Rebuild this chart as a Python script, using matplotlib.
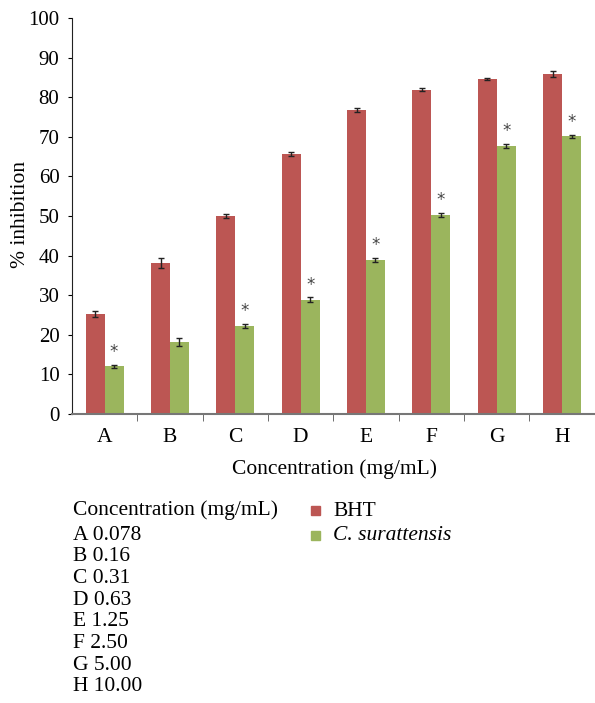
import numpy as np
import matplotlib
matplotlib.use('Agg')
import matplotlib.pyplot as plt

plt.rcParams['font.family'] = ['Liberation Serif', 'DejaVu Serif']

categories = ['A', 'B', 'C', 'D', 'E', 'F', 'G', 'H']
conc_labels = ['0.078', '0.16', '0.31', '0.63', '1.25', '2.50', '5.00', '10.00']
bht = [25.2, 38.1, 50.0, 65.7, 76.8, 81.9, 84.6, 85.9]
bht_err = [0.8, 1.2, 0.4, 0.6, 0.5, 0.4, 0.2, 0.7]
cs = [12.0, 18.1, 22.2, 28.8, 38.9, 50.3, 67.7, 70.2]
cs_err = [0.4, 1.0, 0.5, 0.6, 0.6, 0.5, 0.6, 0.4]
signif = [True, False, True, True, True, True, True, True]

red = '#bc5653'
green = '#9bb55d'

fig = plt.figure(figsize=(5.95, 7.03), dpi=100)
ax = fig.add_axes([0.121, 0.4115, 0.884, 0.5625])

x = np.arange(len(categories))
w = 0.29
ax.bar(x - w / 2, bht, w, color=red, yerr=bht_err,
       error_kw=dict(ecolor='#222222', elinewidth=1, capsize=2, capthick=1))
ax.bar(x + w / 2, cs, w, color=green, yerr=cs_err,
       error_kw=dict(ecolor='#222222', elinewidth=1, capsize=2, capthick=1))
for i in range(len(categories)):
    if signif[i]:
        ax.text(x[i] + w / 2, cs[i] + cs_err[i] + 3.2, '*', ha='center', va='center',
                fontsize=12, color='#444444', family='DejaVu Sans')

ax.set_xlim(-0.5, len(categories) - 0.45)
ax.set_ylim(0, 100)
ax.set_yticks(range(0, 101, 10))
ax.set_xticks(x)
ax.set_xticklabels(categories)
ax.set_xticks(np.arange(len(categories)) + 0.5, minor=True)
ax.tick_params(axis='x', which='major', length=0, pad=10, labelsize=15.5)
ax.tick_params(axis='x', which='minor', length=5, direction='out', color='#555555')
ax.tick_params(axis='y', length=3, direction='out', labelsize=15, pad=6)
for s in ['top', 'right']:
    ax.spines[s].set_visible(False)
ax.spines['left'].set_color('#222222')
ax.spines['bottom'].set_color('#777777')
ax.spines['bottom'].set_linewidth(1.5)

ax.set_ylabel('% inhibition', fontsize=15.5, va='center')
ax.yaxis.set_label_coords(-0.097, 0.503)
ax.set_xlabel('Concentration (mg/mL)', fontsize=15.5, labelpad=9)

# concentration key
fig.text(73 / 595, 1 - 510 / 703, 'Concentration (mg/mL)', fontsize=15.5, va='center')
for i, (c, v) in enumerate(zip(categories, conc_labels)):
    fig.text(73 / 595, 1 - (535 + i * 21.7) / 703, c + ' ' + v, fontsize=15.5, va='center')

# series legend
fig.patches.append(plt.Rectangle((311 / 595, 1 - 515 / 703), 9 / 595, 9 / 703,
                                 color=red, transform=fig.transFigure))
fig.patches.append(plt.Rectangle((311 / 595, 1 - 540 / 703), 9 / 595, 9 / 703,
                                 color=green, transform=fig.transFigure))
fig.text(333 / 595, 1 - 511 / 703, 'BHT', fontsize=15.5, va='center')
fig.text(333 / 595, 1 - 536 / 703, 'C. surattensis', fontsize=15.5, va='center', style='italic')

fig.savefig('out.png', dpi=100)
